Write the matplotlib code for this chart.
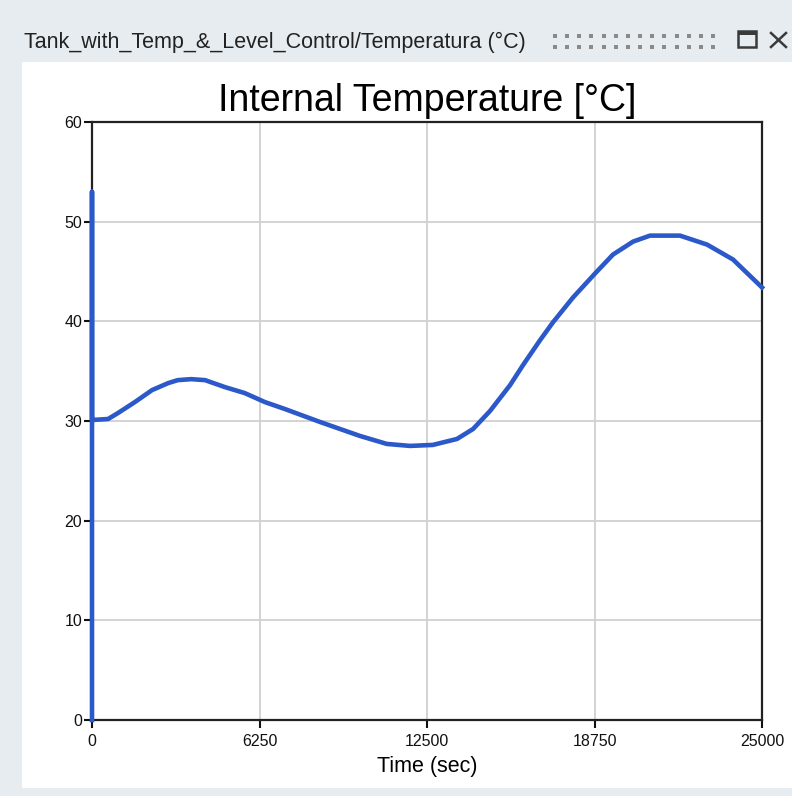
import numpy as np
import matplotlib.pyplot as plt
from matplotlib.patches import Rectangle
from matplotlib.lines import Line2D

# data (time in sec, temperature in degC)
time_s = [0, 0, 0, 600, 970, 1600, 2240, 2840, 3200, 3700, 4220, 4960, 5700,
          6450, 7200, 8510, 10000, 11000, 11870, 12720, 13620, 14220, 14850,
          15600, 16080, 16716, 17200, 17950, 18770, 19440, 20190, 20820,
          21940, 22950, 23920, 25000]
temp_c = [0, 53, 30.1, 30.2, 30.8, 31.9, 33.1, 33.8, 34.1, 34.2, 34.1, 33.4, 32.8,
          31.9, 31.2, 29.9, 28.5, 27.7, 27.5, 27.6, 28.2, 29.2, 31.0,
          33.6, 35.6, 38.1, 39.9, 42.4, 44.8, 46.7, 48.0, 48.6,
          48.6, 47.7, 46.2, 43.4]
x_ticks = [0, 6250, 12500, 18750, 25000]
y_ticks = [0, 10, 20, 30, 40, 50, 60]

W, H = 792, 796
fig = plt.figure(figsize=(W / 100, H / 100), dpi=100)
fig.patch.set_facecolor("#e6ecf0")


def fx(px):
    return px / W


def fy(py):
    return 1 - py / H


# white panel behind the axes
fig.patches.append(Rectangle((fx(22), fy(788)), (W - 22) / W, (788 - 62) / H,
                             transform=fig.transFigure, facecolor="white",
                             edgecolor="none", zorder=-10))
# window title bar
fig.text(fx(24), fy(42), "Tank_with_Temp_&_Level_Control/Temperatura (°C)",
         fontsize=15.5, family="Liberation Sans", color="#222222", va="center")

# grip dots
gx = np.linspace(555, 713, 14)
for gy in (36, 47):
    fig.add_artist(Line2D(fx(gx), [fy(gy)] * len(gx), transform=fig.transFigure,
                          ls="none", marker="s", ms=2.2, color="#8a8a8a", mew=0))

# maximize icon
fig.patches.append(Rectangle((fx(738), fy(47)), 18 / W, 16 / H,
                             transform=fig.transFigure, facecolor="none",
                             edgecolor="#3a3a3a", lw=1.8))
fig.patches.append(Rectangle((fx(738), fy(35)), 18 / W, 4 / H,
                             transform=fig.transFigure, facecolor="#3a3a3a",
                             edgecolor="none"))
# close icon
fig.add_artist(Line2D([fx(771), fx(786)], [fy(33), fy(47)], transform=fig.transFigure,
                      color="#3a3a3a", lw=1.8))
fig.add_artist(Line2D([fx(771), fx(786)], [fy(47), fy(33)], transform=fig.transFigure,
                      color="#3a3a3a", lw=1.8))

ax = fig.add_axes([fx(92), fy(720), (762 - 92) / W, (720 - 122) / H])
ax.plot(time_s, temp_c, color="#2c59c9", lw=3.3, solid_joinstyle="round", zorder=3,
        clip_on=False)

ax.set_xlim(0, 25000)
ax.set_ylim(0, 60)
ax.set_xticks(x_ticks)
ax.set_yticks(y_ticks)
ax.set_xticklabels([str(v) for v in x_ticks])
ax.grid(True, color="#d0d0d0", lw=1.3)
ax.tick_params(length=6, width=1.5, labelsize=11.5, colors="#111111", pad=1)
ax.tick_params(axis="x", pad=4)
for s in ax.spines.values():
    s.set_linewidth(1.6)
    s.set_color("#222222")

ax.set_title("Internal Temperature [°C]", fontsize=27, family="Liberation Sans",
             pad=8)
ax.set_xlabel("Time (sec)", fontsize=15.5, family="Liberation Sans", labelpad=5)
for lab in ax.get_xticklabels() + ax.get_yticklabels():
    lab.set_family("Liberation Sans")

fig.savefig("out.png", dpi=100)
